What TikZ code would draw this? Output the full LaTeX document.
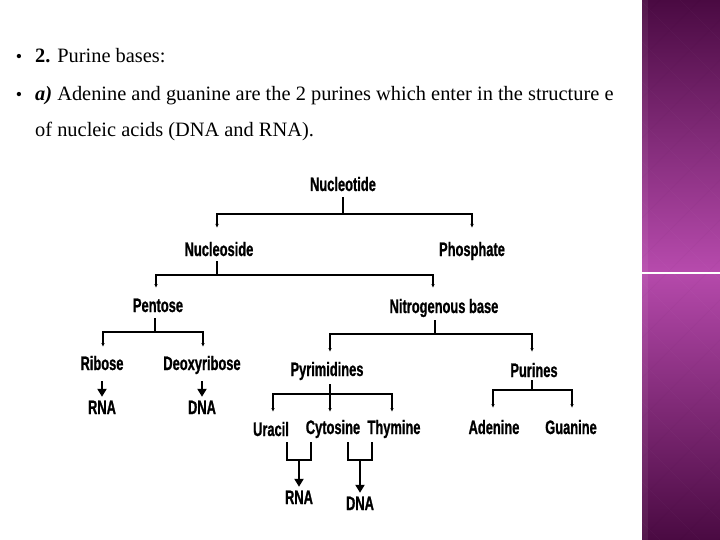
\documentclass[tikz,border=0pt]{standalone}
\usepackage{fontspec}
\setmainfont{Liberation Serif}
\newfontfamily\diafont[FakeStretch=0.66,FakeBold=0.9]{Liberation Sans}
\usetikzlibrary{arrows.meta}
\definecolor{plumdark}{RGB}{74,10,66}
\definecolor{plumlight}{RGB}{182,74,172}
\begin{document}
\begin{tikzpicture}[x=1pt,y=-1pt,
 lbl/.style={font=\diafont\bfseries\fontsize{19.5}{19.5}\selectfont, inner sep=0pt, text height=14pt, text depth=0pt},
 txt/.style={font=\fontsize{20.4}{20.4}\selectfont, inner sep=0pt, anchor=base west},
 bul/.style={font=\fontsize{18}{18}\selectfont, inner sep=0pt, anchor=base},
 bar/.style={line width=2.6pt, line cap=rect},
 stem/.style={line width=2.2pt},
 drop/.style={line width=1.4pt, -{Latex[length=4pt,width=3.5pt]}},
 bigarrow/.style={line width=2.2pt, -{Triangle[length=8pt,width=9pt]}},
 brk/.style={line width=2.2pt},
]
\useasboundingbox (0,0) rectangle (720,540);
\fill[white] (0,0) rectangle (720,540);
% side band
\shade[top color=plumdark, bottom color=plumdark, middle color=plumlight] (642,0) rectangle (720,540);
\fill[white, opacity=0.06] (642,0) rectangle (648,540);
\begin{scope}
\clip (642,0) rectangle (720,540);
\foreach \k in {-600,-560,...,760} {
  \draw[white, opacity=0.025, line width=1pt] (\k,0) -- ++(540,540);
  \draw[black, opacity=0.02, line width=1pt] (\k,540) -- ++(540,-540);
}
\end{scope}
\draw[white, line width=1.6pt] (642,273) -- (720,273);

% text
\node[bul] (bul1) at (19,63) {•};
\node[bul] (bul2) at (19,101) {•};
\node[txt] (l1) at (35,63) {\textbf{2.} Purine bases:};
\node[txt] (l2) at (35,101) {\textbf{\textit{a)}} Adenine and guanine are the 2 purines which enter in the structure e};
\node[txt] (l3) at (35,137) {of nucleic acids (DNA and RNA).};

% diagram labels
\node[lbl] (nt) at (343,184) {Nucleotide};
\node[lbl] (ns) at (219,249) {Nucleoside};
\node[lbl] (ph) at (472,249) {Phosphate};
\node[lbl] (pe) at (158,305) {Pentose};
\node[lbl] (nb) at (444,306) {Nitrogenous base};
\node[lbl] (ri) at (102,363) {Ribose};
\node[lbl] (de) at (202,363) {Deoxyribose};
\node[lbl] (rna1) at (102,407) {RNA};
\node[lbl] (dna1) at (202,407) {DNA};
\node[lbl] (py) at (327,369) {Pyrimidines};
\node[lbl] (pu) at (534,370) {Purines};
\node[lbl] (ur) at (271,429) {Uracil};
\node[lbl] (cy) at (333,427) {Cytosine};
\node[lbl] (th) at (394,427) {Thymine};
\node[lbl] (ad) at (494,427) {Adenine};
\node[lbl] (gu) at (571,427) {Guanine};
\node[lbl] (rna2) at (299,497) {RNA};
\node[lbl] (dna2) at (360,503) {DNA};

% Nucleotide
\coordinate (a1) at (217,214); \coordinate (a2) at (472,214);
\draw[stem] ([yshift=-6pt]nt.south) -- (nt.south |- a1);
\draw[bar] (a1) -- (a2);
\draw[drop] (a1) -- (217,228) coordinate (a1e);
\draw[drop] (a2) -- (472,228) coordinate (a2e);
% Nucleoside
\coordinate (b1) at (156,275); \coordinate (b2) at (433,275);
\draw[stem] (217,261) coordinate (bs) -- (bs |- b1);
\draw[bar] (b1) -- (b2);
\draw[drop] (b1) -- (156,288) coordinate (b1e);
\draw[drop] (b2) -- (433,288) coordinate (b2e);
% Pentose
\coordinate (c1) at (103,332); \coordinate (c2) at (203,332);
\draw[stem] (155,318) coordinate (cs) -- (cs |- c1);
\draw[bar] (c1) -- (c2);
\draw[drop] (c1) -- (103,347) coordinate (c1e);
\draw[drop] (c2) -- (203,347) coordinate (c2e);
\draw[bigarrow] ([yshift=-11pt]ri.south) -- ([yshift=3pt]rna1.north);
\draw[bigarrow] ([yshift=-11pt]de.south) -- ([yshift=3pt]dna1.north);
% Nitrogenous base
\coordinate (d1) at (330,334); \coordinate (d2) at (532,334);
\draw[stem] (435,320) coordinate (ds) -- (ds |- d1);
\draw[bar] (d1) -- (d2);
\draw[drop] (d1) -- (330,352) coordinate (d1e);
\draw[drop] (d2) -- (532,352) coordinate (d2e);
% Pyrimidines
\coordinate (e1) at (273,394); \coordinate (e2) at (330,394); \coordinate (e3) at (392,394);
\draw[stem] (330,384) coordinate (es) -- (e2);
\draw[bar] (e1) -- (e3);
\draw[drop] (e1) -- (273,412) coordinate (e1e);
\draw[drop] (e2) -- (330,412) coordinate (e2e);
\draw[drop] (e3) -- (392,412) coordinate (e3e);
% Purines
\coordinate (f1) at (493,390); \coordinate (f2) at (572,390);
\draw[stem] (532,380) coordinate (fs) -- (fs |- f1);
\draw[bar] (f1) -- (f2);
\draw[drop] (f1) -- (493,408) coordinate (f1e);
\draw[drop] (f2) -- (572,408) coordinate (f2e);
% brackets to RNA / DNA
\draw[brk] (287,442) -- (287,460) -- (311,460) -- (311,442);
\draw[bigarrow] (299,460) -- ([yshift=3pt]rna2.north);
\draw[brk] (348,442) -- (348,460) -- (372,460) -- (372,442);
\draw[bigarrow] (360,460) -- ([yshift=3pt]dna2.north);
\end{tikzpicture}
\end{document}
